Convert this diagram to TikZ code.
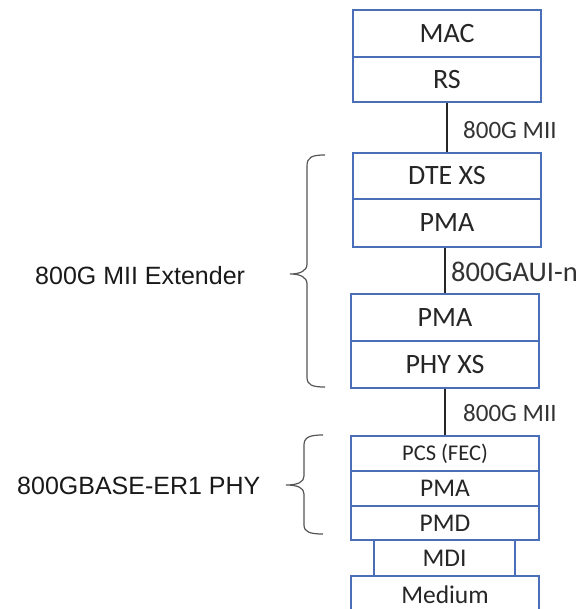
\documentclass[tikz,border=0pt]{standalone}
\usepackage{fontspec}
\setmainfont{Carlito}
\newfontfamily\arialfont{Liberation Sans}
\definecolor{boxblue}{HTML}{4A6EB8}
\definecolor{bracegray}{HTML}{555555}
\begin{document}
\begin{tikzpicture}[x=1pt,y=-1pt,
  layer/.style={draw=boxblue,line width=1.3pt,fill=white,minimum width=188pt,inner sep=0pt,font=\fontsize{28}{30}\selectfont,text=black!85},
  slayer/.style={layer,font=\fontsize{25.5}{27}\selectfont},
  conn/.style={draw=black!85,line width=1.3pt},
  ilabel/.style={anchor=west,inner sep=0pt,font=\fontsize{25}{27}\selectfont,text=black!80},
  glabel/.style={anchor=west,inner sep=0pt,font=\arialfont\fontsize{25}{27}\selectfont,text=black!90},
  brace/.style={draw=bracegray,line width=1.2pt}]
\useasboundingbox (0,0) rectangle (584,609);
% upper stack
\node[layer,minimum height=47pt] (mac) at (447,33.5) {MAC};
\node[layer,minimum height=45pt] (rs) at (447,79.5) {RS};
\node[layer,minimum height=46pt] (dte) at (447,176) {DTE XS};
\node[layer,minimum height=48pt] (pma1) at (447,223) {PMA};
\node[layer,minimum height=47pt] (pma2) at (445,317.5) {PMA};
\node[layer,minimum height=47pt] (phyxs) at (445,364.5) {PHY XS};
% PHY stack
\node[slayer,minimum height=35pt,font=\fontsize{22.5}{25}\selectfont] (pcs) at (445,453.5) {PCS (FEC)};
\node[slayer,minimum height=35pt] (pma3) at (445,488.5) {PMA};
\node[slayer,minimum height=34pt] (pmd) at (445,523) {PMD};
\node[slayer,minimum width=141pt,minimum height=36pt] (mdi) at (444.5,558) {MDI};
\node[slayer,minimum height=38pt] (medium) at (445,595) {Medium};
% connectors
\draw[conn] (rs.south) -- (dte.north);
\draw[conn] (pma1.south -| pma2.north) -- (pma2.north);
\draw[conn] (phyxs.south) -- (pcs.north);
% interface labels
\node[ilabel] (l1) at (463,130) {800G MII};
\node[ilabel,font=\fontsize{28.5}{30}\selectfont] (l2) at (451,272) {800GAUI-n};
\node[ilabel] (l3) at (463,413) {800G MII};
% group labels
\node[glabel] (g1) at (35,276) {800G MII Extender};
\node[glabel] (g2) at (17,486) {800GBASE-ER1 PHY};
% braces
\coordinate (b1t) at (325,155);
\coordinate (b1b) at (325,387);
\coordinate (b1tip) at (290,274);
\draw[brace] (b1t) .. controls (312,155) and (307,157) .. (307,166) -- (307,264)
  .. controls (307,271) and (300,274) .. (b1tip)
  .. controls (300,274) and (307,277) .. (307,284) -- (307,377)
  .. controls (307,385) and (312,387) .. (b1b);
\coordinate (b2t) at (323,435);
\coordinate (b2b) at (323,534);
\coordinate (b2tip) at (286,485);
\draw[brace] (b2t) .. controls (310,435) and (304,437) .. (304,445) -- (304,476)
  .. controls (304,482) and (298,485) .. (b2tip)
  .. controls (298,485) and (304,488) .. (304,494) -- (304,525)
  .. controls (304,532) and (310,534) .. (b2b);
\end{tikzpicture}
\end{document}
